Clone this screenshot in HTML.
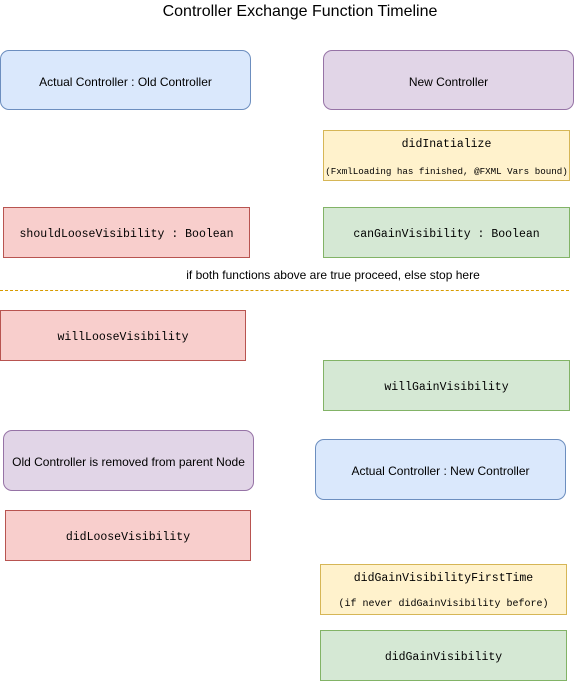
<!DOCTYPE html>
<html><head><style>
body{margin:0;width:574px;height:681px;background:#fff;position:relative;overflow:hidden;font-family:"Liberation Sans",sans-serif;}
.b{position:absolute;box-sizing:border-box;display:flex;align-items:center;justify-content:center;flex-direction:column;text-align:center;font-size:12px;color:#000;padding-top:3px;}
.m{font-family:"Liberation Mono",monospace;font-size:11.5px;}
.r{border-radius:9px;}
.blue{background:#dae8fc;border:1px solid #6c8ebf;}
.pur{background:#e1d5e7;border:1px solid #9673a6;}
.yel{background:#fff2cc;border:1px solid #d6b656;}
.red{background:#f8cecc;border:1px solid #b85450;}
.grn{background:#d5e8d4;border:1px solid #82b366;}
</style></head><body>
<div style="position:absolute;left:0;width:600px;top:3px;text-align:center;font-size:16px;">Controller Exchange Function Timeline</div>
<div class="b r blue" style="left:0;top:50px;width:251px;height:60px;">Actual Controller : Old Controller</div>
<div class="b r pur" style="left:323px;top:50px;width:251px;height:60px;">New Controller</div>
<div class="b m yel" style="left:323px;top:130px;width:247px;height:51px;justify-content:space-between;padding:7px 0 3px;"><div>didInatialize</div><div style="font-size:9.2px;">(FxmlLoading has finished, @FXML Vars bound)</div></div>
<div class="b m red" style="left:3px;top:207px;width:247px;height:51px;">shouldLooseVisibility : Boolean</div>
<div class="b m grn" style="left:323px;top:207px;width:247px;height:51px;">canGainVisibility : Boolean</div>
<div style="position:absolute;left:0;width:666px;top:268px;text-align:center;font-size:12px;">if both functions above are true proceed, else stop here</div>
<div style="position:absolute;left:0;width:569px;top:290px;border-top:1px dashed #d79b00;"></div>
<div class="b m red" style="left:0;top:310px;width:246px;height:51px;">willLooseVisibility</div>
<div class="b m grn" style="left:323px;top:360px;width:247px;height:51px;">willGainVisibility</div>
<div class="b r pur" style="left:3px;top:430px;width:251px;height:61px;">Old Controller is removed from parent Node</div>
<div class="b r blue" style="left:315px;top:439px;width:251px;height:61px;">Actual Controller : New Controller</div>
<div class="b m red" style="left:5px;top:510px;width:246px;height:51px;">didLooseVisibility</div>
<div class="b m yel" style="left:320px;top:564px;width:247px;height:51px;justify-content:space-between;padding:7px 0 4px;"><div>didGainVisibilityFirstTime</div><div style="font-size:10px;">(if never didGainVisibility before)</div></div>
<div class="b m grn" style="left:320px;top:630px;width:247px;height:51px;">didGainVisibility</div>
</body></html>
